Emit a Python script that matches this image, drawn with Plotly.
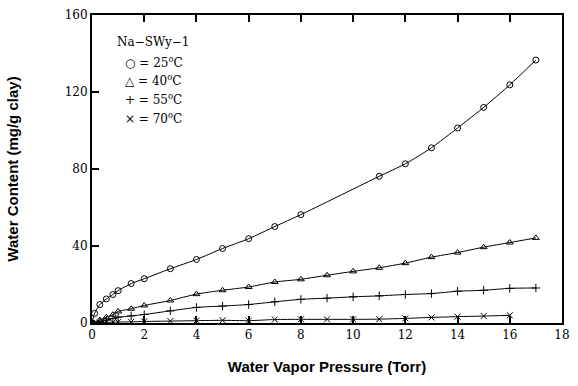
import plotly.graph_objects as go

# Water vapor pressure (Torr) and water content (mg/g clay)
x25 = [0, 0.1, 0.3, 0.55, 0.8, 1.0, 1.5, 2, 3, 4, 5, 6, 7, 8, 11, 12, 13, 14, 15, 16, 17]
y25 = [0, 5.0, 9.6, 12.5, 14.8, 16.8, 20.5, 23.0, 28.2, 33.0, 38.7, 43.8, 50.1, 56.3, 76.2, 82.7, 91.0, 101.3, 112.0, 123.7, 136.6]

x40 = [0, 0.3, 0.55, 0.8, 1.0, 1.5, 2, 3, 4, 5, 6, 7, 8, 9, 10, 11, 12, 13, 14, 15, 16, 17]
y40 = [0, 1.5, 3.0, 4.3, 6.0, 7.4, 9.1, 11.7, 15.0, 17.0, 18.7, 21.3, 22.7, 24.8, 26.8, 28.7, 31.1, 34.2, 36.6, 39.4, 41.8, 44.2]

x55 = [0, 0.3, 0.55, 0.8, 1.0, 1.5, 2, 3, 4, 5, 6, 7, 8, 9, 10, 11, 12, 13, 14, 15, 16, 17]
y55 = [0, 0.8, 1.5, 2.3, 3.0, 3.7, 4.4, 6.3, 8.1, 8.8, 9.6, 11.0, 12.3, 12.9, 13.6, 14.1, 14.8, 15.3, 16.5, 17.0, 18.0, 18.2]

x70 = [0, 0.3, 0.55, 0.8, 1.0, 1.5, 2, 3, 4, 5, 6, 7, 8, 9, 10, 11, 12, 13, 14, 15, 16]
y70 = [0, 0.2, 0.3, 0.4, 0.5, 0.6, 0.8, 1.0, 1.2, 1.4, 1.2, 1.8, 1.9, 1.9, 1.9, 2.0, 2.4, 2.9, 3.3, 3.6, 4.0]

x_ticks = [0, 2, 4, 6, 8, 10, 12, 14, 16, 18]
y_ticks = [0, 40, 80, 120, 160]

legend_title = "Na\u2212SWy\u22121"
legend_lines = ["\u25cb = 25<sup>o</sup>C", "\u25b3 = 40<sup>o</sup>C", "+ = 55<sup>o</sup>C", "\u00d7 = 70<sup>o</sup>C"]

series = [
    (x25, y25, "circle-open", 6),
    (x40, y40, "triangle-up-open", 6),
    (x55, y55, "cross-thin-open", 6),
    (x70, y70, "x-thin-open", 6),
]

fig = go.Figure()
for xs, ys, sym, sz in series:
    fig.add_trace(go.Scatter(
        x=xs, y=ys, mode="lines+markers",
        line=dict(color="black", width=1, shape="spline", smoothing=0.6),
        marker=dict(symbol=sym, size=sz, color="black", line=dict(color="black", width=1)),
        showlegend=False,
    ))

serif = "DejaVu Serif"
fig.add_annotation(x=0.049, y=0.912, xref="paper", yref="paper", text=legend_title,
                   showarrow=False, xanchor="left", yanchor="middle",
                   font=dict(family=serif, size=12, color="black"))
for i, t in enumerate(legend_lines):
    fig.add_annotation(x=0.066, y=0.849 - i * 0.061, xref="paper", yref="paper", text=t,
                       showarrow=False, xanchor="left", yanchor="middle",
                       font=dict(family=serif, size=12, color="black"))

fig.update_layout(
    width=578, height=386,
    margin=dict(l=92, r=8, t=13, b=63),
    paper_bgcolor="white", plot_bgcolor="white",
    font=dict(family=serif, size=12, color="black"),
    xaxis=dict(range=[0, 18], tickvals=x_ticks, ticks="inside", ticklen=7, tickwidth=1.5,
               tickcolor="black", showline=True, linecolor="black", linewidth=2,
               mirror="ticks", showgrid=False, zeroline=False,
               tickfont=dict(family=serif, size=12),
               title=dict(text="<b>Water Vapor Pressure (Torr)</b>", standoff=20,
                          font=dict(family="Liberation Sans", size=15, color="black"))),
    yaxis=dict(range=[0, 160], tickvals=y_ticks, ticks="inside", ticklen=7, tickwidth=1.5,
               tickcolor="black", showline=True, linecolor="black", linewidth=2,
               mirror=True, showgrid=False, zeroline=False,
               tickfont=dict(family=serif, size=12),
               title=dict(text="<b>Water Content (mg/g clay)</b>", standoff=42,
                          font=dict(family="Liberation Sans", size=15, color="black"))),
)

fig.write_html("out.html", config={"displayModeBar": False},
               post_script="document.body.style.margin='0';")
